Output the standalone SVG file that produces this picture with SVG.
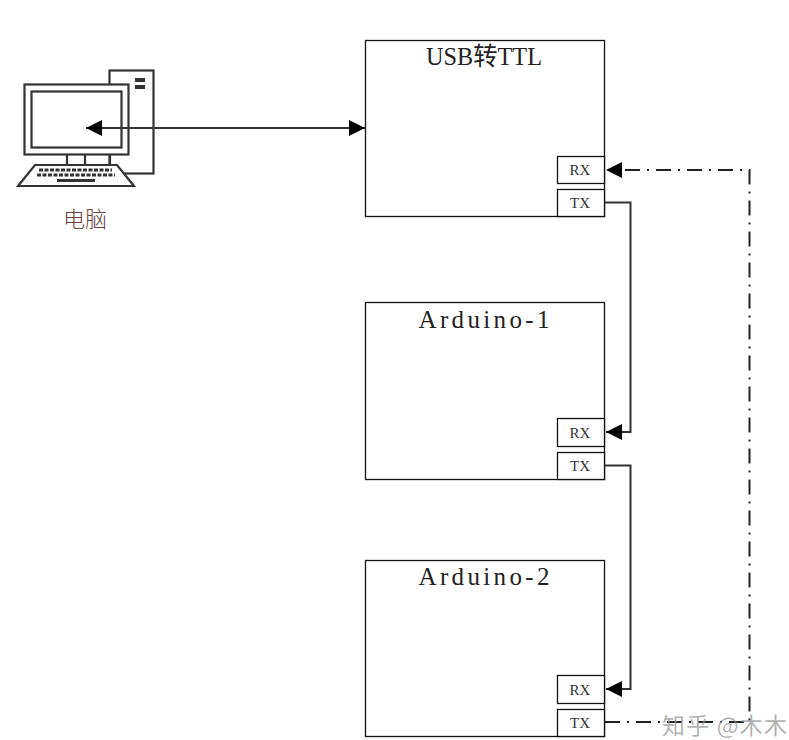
<svg xmlns="http://www.w3.org/2000/svg" width="789" height="740" viewBox="0 0 789 740">
<style>
.box{fill:#fff;stroke:#111;stroke-width:1.3}
.title{font-family:"Liberation Serif","Noto Sans CJK SC",serif;font-size:25px;fill:#222;text-anchor:middle}
.port{font-family:"Liberation Serif","Noto Sans CJK SC",serif;font-size:15px;fill:#333;text-anchor:middle}
.ic{fill:#fff;stroke:#333;stroke-width:2.2}
.k{stroke:#333;stroke-width:3;stroke-dasharray:4 1.5;fill:none}
.w{fill:none;stroke:#333;stroke-width:2}
.dd{fill:none;stroke:#222;stroke-width:2;stroke-dasharray:15 7 2 7}
</style>
<defs>
<marker id="a" markerUnits="userSpaceOnUse" markerWidth="17" markerHeight="16" refX="16" refY="8" orient="auto-start-reverse"><path d="M0 0L16 8L0 16Z" fill="#000"/></marker>
</defs>
<rect width="789" height="740" fill="#fff"/>
<g id="computer">
<rect class="ic" x="109.500" y="70.500" width="44" height="103"/>
<rect x="135" y="78" width="10" height="4" fill="#333"/><rect x="135" y="85" width="10" height="4" fill="#333"/>
<rect class="ic" x="24.500" y="84.500" width="104" height="70"/>
<rect class="ic" x="31.500" y="91.500" width="90" height="56"/>
<path class="ic" d="M67 154.500V165M85 154.500V165M110 154.500V165"/>
<path class="ic" d="M35 165H117L134 186H18Z"/>
<path class="k" d="M39 170H112M37 175H115"/>
<rect x="57" y="179" width="38" height="3" fill="#333"/>
<text x="85" y="227" font-family="'Noto Sans CJK SC',sans-serif" font-size="22" font-weight="300" fill="#6b4040" text-anchor="middle">电脑</text>
</g>
<g id="usb-ttl">
<rect class="box" x="365.500" y="40.500" width="239" height="176"/>
<text class="title" x="484" y="65" textLength="116" lengthAdjust="spacingAndGlyphs">USB转TTL</text>
<rect class="box" x="557.500" y="156.500" width="47" height="27"/>
<text class="port" x="580" y="175">RX</text>
<rect class="box" x="557.500" y="189.500" width="47" height="27"/>
<text class="port" x="580" y="208">TX</text>
</g>
<g id="arduino-1">
<rect class="box" x="365.500" y="302.500" width="239" height="177"/>
<text class="title" x="484" y="328" textLength="131" lengthAdjust="spacing">Arduino-1</text>
<rect class="box" x="557.500" y="418.500" width="47" height="28"/>
<text class="port" x="580" y="438">RX</text>
<rect class="box" x="557.500" y="452.500" width="47" height="27"/>
<text class="port" x="580" y="471">TX</text>
</g>
<g id="arduino-2">
<rect class="box" x="365.500" y="560.500" width="239" height="176"/>
<text class="title" x="484" y="585" textLength="131" lengthAdjust="spacing">Arduino-2</text>
<rect class="box" x="557.500" y="675.500" width="47" height="28"/>
<text class="port" x="580" y="695">RX</text>
<rect class="box" x="557.500" y="709.500" width="47" height="27"/>
<text class="port" x="580" y="728">TX</text>
</g>
<g id="connectors">
<path class="w" marker-start="url(#a)" marker-end="url(#a)" d="M86 128H365"/>
<path class="w" marker-end="url(#a)" d="M605 202.500H630.500V432H606"/>
<path class="w" marker-end="url(#a)" d="M605 465.500H630.500V689H606"/>
<path class="dd" d="M605 722H749.500V170H621"/>
<path d="M606 170L622 162V178Z" fill="#000"/>
</g>
<g id="watermark" font-family="'Noto Sans CJK SC',sans-serif" fill="#999" fill-opacity=".75">
<text x="662" y="734" font-size="23" textLength="125">知乎 @木木</text>
</g>
</svg>
